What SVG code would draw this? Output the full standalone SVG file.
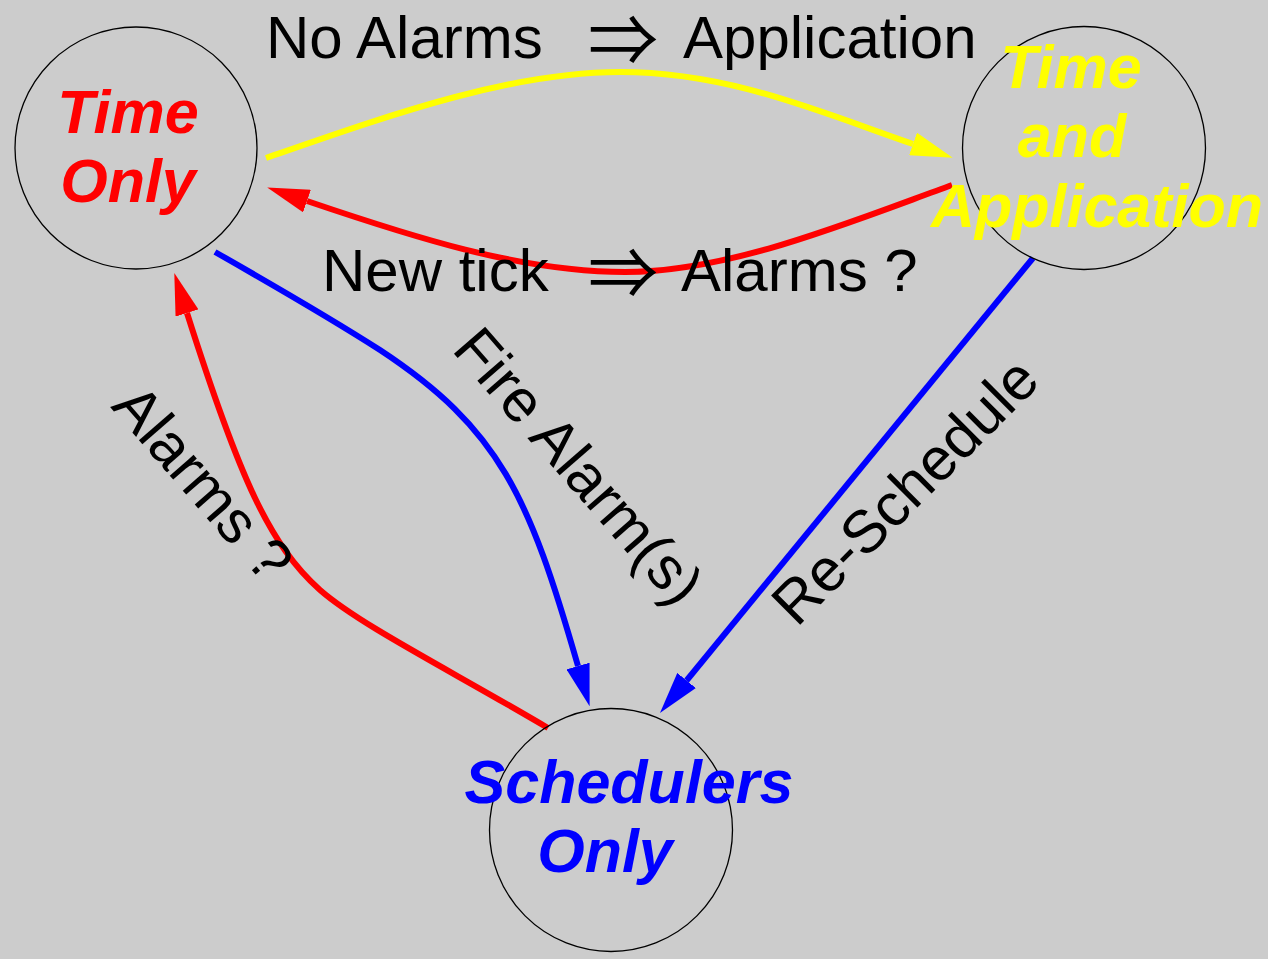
<svg xmlns="http://www.w3.org/2000/svg" width="1268" height="959" viewBox="0 0 1268 959">
<style>
.node circle{fill:none;stroke:#000;stroke-width:1.3}
.nt{font-family:"Liberation Sans",Arial,sans-serif;font-weight:bold;font-style:italic;font-size:61px;text-anchor:middle}
.lbl{font-family:"Liberation Sans",Arial,sans-serif;font-size:60px;fill:#000}
.arr{font-family:"Noto Sans CJK JP","DejaVu Sans",sans-serif;font-size:70px;fill:#000;text-anchor:middle}
.edge{fill:none;stroke-width:6}
</style>
<defs>
<marker id="ay" viewBox="0 -12 42 24" refX="0" refY="0" markerWidth="42" markerHeight="24" markerUnits="userSpaceOnUse" orient="auto"><path d="M0,-12 L42,0 L0,12 z" fill="#ffff00"/></marker>
<marker id="ar" viewBox="0 -12 42 24" refX="0" refY="0" markerWidth="42" markerHeight="24" markerUnits="userSpaceOnUse" orient="auto"><path d="M0,-12 L42,0 L0,12 z" fill="#ff0000"/></marker>
<marker id="ab" viewBox="0 -12 42 24" refX="0" refY="0" markerWidth="42" markerHeight="24" markerUnits="userSpaceOnUse" orient="auto"><path d="M0,-12 L42,0 L0,12 z" fill="#0000ff"/></marker>
</defs>
<rect width="1268" height="959" fill="#cccccc"/>
<g id="connectors">
<path class="edge" stroke="#ffff00" marker-end="url(#ay)" d="M266,158 C390,115 510,72 620,72 C730,72 820,112 913,144"/>
<path class="edge" stroke="#ff0000" marker-end="url(#ar)" d="M952,185 C850,222 730,272 625,272 C520,272 410,236 307,201"/>
<path class="edge" stroke="#0000ff" marker-end="url(#ab)" d="M215,252 C280,289 330,318 380,350 C500,429 529,496 578,666"/>
<path class="edge" stroke="#0000ff" marker-end="url(#ab)" d="M1033,258 L686.6,680.5"/>
<path class="edge" stroke="#ff0000" marker-end="url(#ar)" d="M548,728 C450,670 360,625 320,590 C270,545 240,480 187,313"/>
<g id="label-no-alarms">
<text class="lbl" x="266" y="58">No Alarms</text>
<text class="arr" x="623" y="66">⇒</text>
<text class="lbl" x="683" y="58">Application</text>
</g>
<g id="label-new-tick">
<text class="lbl" x="322" y="291">New tick</text>
<text class="arr" x="623" y="299">⇒</text>
<text class="lbl" x="681" y="291">Alarms ?</text>
</g>
<text class="lbl" transform="translate(450.7,350) rotate(49)">Fire Alarm(s)</text>
<text class="lbl" transform="translate(110,407) rotate(49)">Alarms ?</text>
<text class="lbl" transform="translate(796.7,628.3) rotate(-45)">Re-Schedule</text>
</g>
<g id="node-time-only" class="node">
<circle cx="136" cy="148" r="121"/>
<text class="nt" fill="#ff0000"><tspan x="128" y="133">Time</tspan><tspan x="128" y="202">Only</tspan></text>
</g>
<g id="node-time-app" class="node">
<circle cx="1084" cy="148" r="121.5"/>
<text class="nt" fill="#ffff00"><tspan x="1071" y="88">Time</tspan><tspan x="1072" y="157">and</tspan><tspan x="1097" y="227">Application</tspan></text>
</g>
<g id="node-sched" class="node">
<circle cx="611" cy="830" r="121.5"/>
<text class="nt" fill="#0000ff"><tspan x="629" y="803">Schedulers</tspan><tspan x="605" y="872">Only</tspan></text>
</g>
</svg>
